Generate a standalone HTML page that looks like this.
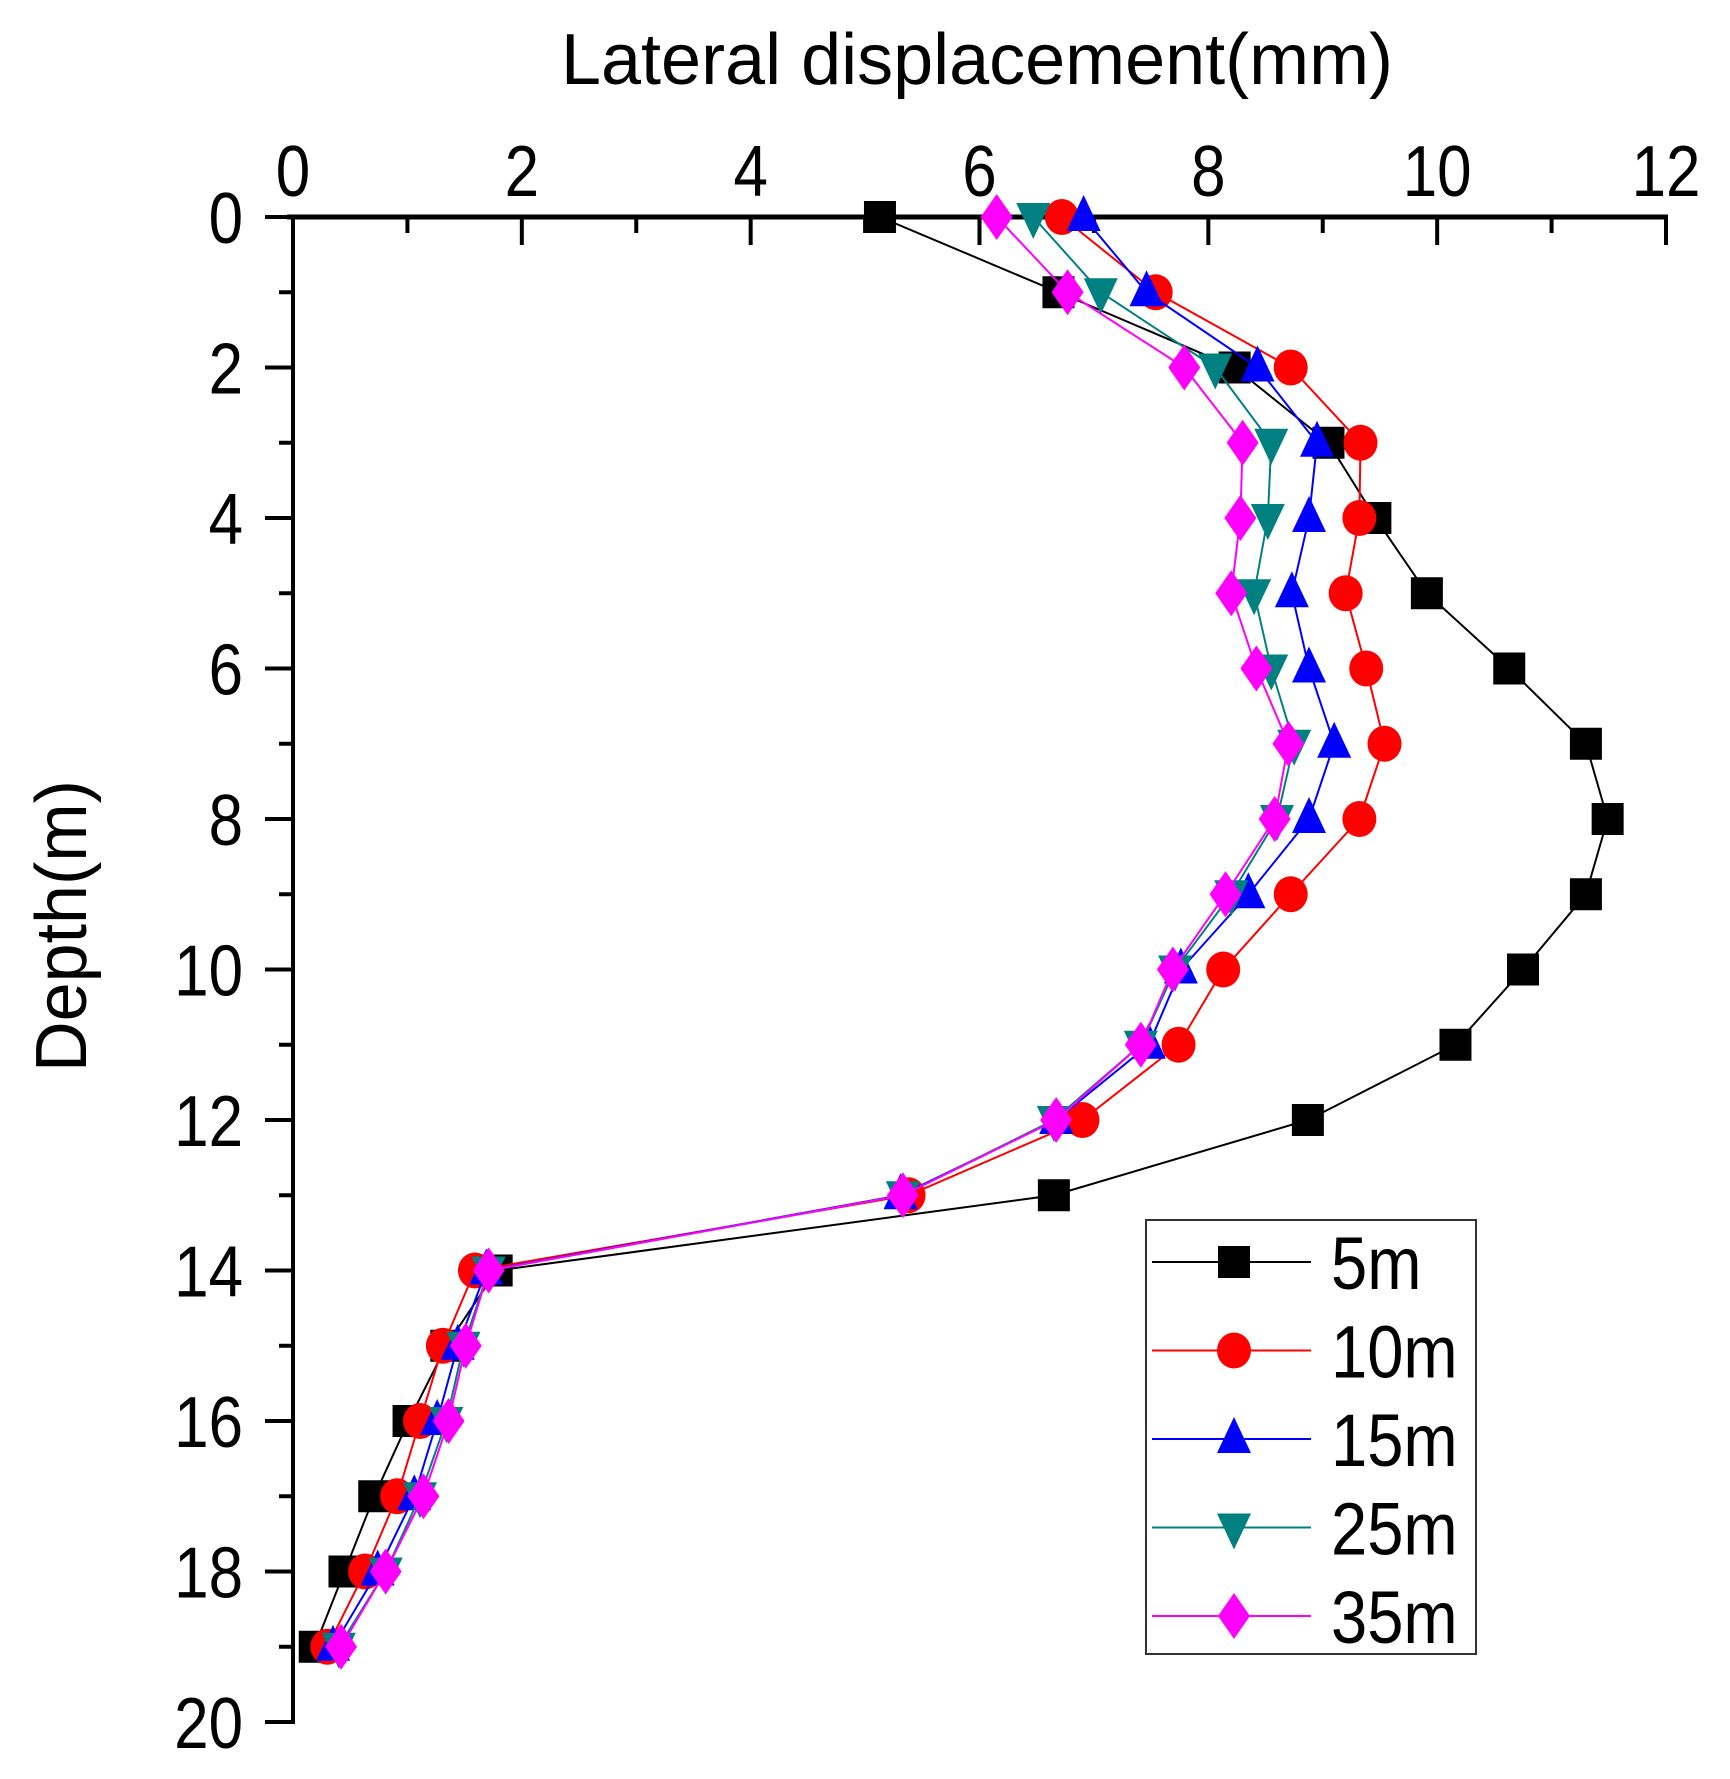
<!DOCTYPE html>
<html><head><meta charset="utf-8"><style>
html,body{margin:0;padding:0;background:#fff;}
svg{display:block;font-family:"Liberation Sans",Arial,sans-serif;}
</style></head><body>
<svg id="chart" width="1730" height="1779" viewBox="0 0 1730 1779" xmlns="http://www.w3.org/2000/svg">
<rect width="1730" height="1779" fill="#fff"/>
<text x="977" y="84" font-size="72" text-anchor="middle" textLength="832" lengthAdjust="spacingAndGlyphs">Lateral displacement(mm)</text>
<text transform="translate(86,926) rotate(-90)" font-size="72" text-anchor="middle" textLength="292" lengthAdjust="spacingAndGlyphs">Depth(m)</text>
<g id="axes"></g><g id="series"></g><g id="legend"></g>
</svg>
<script>
const depths=[0,1,2,3,4,5,6,7,8,9,10,11,12,13,14,15,16,17,18,19];
const s5m=[5.13,6.69,8.23,9.05,9.46,9.91,10.63,11.3,11.49,11.3,10.75,10.16,8.87,6.65,1.78,1.34,1.01,0.71,0.45,0.19];
const s10m=[6.72,7.54,8.72,9.33,9.32,9.2,9.38,9.54,9.32,8.72,8.13,7.74,6.9,5.38,1.59,1.31,1.11,0.91,0.63,0.3];
const s15m=[6.91,7.46,8.43,8.95,8.88,8.73,8.88,9.1,8.88,8.35,7.76,7.48,6.67,5.31,1.69,1.44,1.26,1.06,0.74,0.35];
const s25m=[6.47,7.06,8.06,8.55,8.52,8.4,8.55,8.75,8.6,8.2,7.71,7.41,6.65,5.33,1.71,1.49,1.34,1.11,0.81,0.4];
const s35m=[6.15,6.77,7.79,8.3,8.28,8.2,8.42,8.7,8.58,8.15,7.69,7.41,6.67,5.33,1.71,1.51,1.36,1.14,0.81,0.42];
const xTicks=[0,2,4,6,8,10,12];
const yTicks=[0,2,4,6,8,10,12,14,16,18,20];
const seriesNames=["5m","10m","15m","25m","35m"];

const NS="http://www.w3.org/2000/svg";
const X0=293,X1=1666,Y0=217,Y1=1722;
const xs=v=>X0+(v-0)/12*(X1-X0);
const ys=v=>Y0+v/20*(Y1-Y0);
function mk(tag,attrs,parent){const e=document.createElementNS(NS,tag);for(const k in attrs)e.setAttribute(k,attrs[k]);parent.appendChild(e);return e;}
const axes=document.getElementById('axes');
let l=mk('line',{x1:X0-6,y1:Y0,x2:X1+2,y2:Y0,stroke:'#000','stroke-width':5},axes);


l=mk('line',{x1:X0,y1:Y0,x2:X0,y2:Y1+2,stroke:'#000','stroke-width':4},axes);


for(let v=0;v<=12;v++){
  const major=v%2===0;
  const t=mk('line',{x1:xs(v),y1:Y0,x2:xs(v),y2:Y0+(major?28:16),stroke:'#000','stroke-width':4},axes);
  
  
}
xTicks.forEach(v=>{
  const t=mk('text',{transform:`translate(${xs(v)},196) scale(0.86,1)`,'font-size':72,'text-anchor':'middle'},axes);t.textContent=v;
  
  
});
for(let v=0;v<=20;v++){
  const major=v%2===0;
  const t=mk('line',{x1:X0,y1:ys(v),x2:X0-(major?28:14),y2:ys(v),stroke:'#000','stroke-width':4},axes);
  
  
}
yTicks.forEach(v=>{
  const t=mk('text',{transform:`translate(243,${ys(v)+26}) scale(0.86,1)`,'font-size':72,'text-anchor':'end'},axes);t.textContent=v;
  
  
});
function marker(type,cx,cy,color,parent){
  let e;
  if(type==='sq')e=mk('rect',{x:cx-16,y:cy-16,width:32,height:32,fill:color},parent);
  else if(type==='ci')e=mk('ellipse',{cx:cx,cy:cy,rx:17,ry:18,fill:color},parent);
  else if(type==='up')e=mk('polygon',{points:`${cx},${cy-22} ${cx-17},${cy+14} ${cx+17},${cy+14}`,fill:color},parent);
  else if(type==='dn')e=mk('polygon',{points:`${cx},${cy+22} ${cx-17},${cy-14} ${cx+17},${cy-14}`,fill:color},parent);
  else e=mk('polygon',{points:`${cx},${cy-23} ${cx-16},${cy} ${cx},${cy+23} ${cx+16},${cy}`,fill:color},parent);
  return e;
}
const data=[s5m,s10m,s15m,s25m,s35m];
const colors=['#000','#ff0000','#0000ff','#008080','#ff00ff'];
const types=['sq','ci','up','dn','di'];
const sg=document.getElementById('series');
data.forEach((arr,i)=>{
  const g=mk('g',{},sg);
  
  
  const pl=mk('polyline',{points:arr.map((v,j)=>xs(v)+','+ys(depths[j])).join(' '),fill:'none',stroke:colors[i],'stroke-width':2},g);
  
  
  arr.forEach((v,j)=>{
    const m=marker(types[i],xs(v),ys(depths[j]),colors[i],g);
    
    
  });
});
const lg=document.getElementById('legend');
const box=mk('rect',{x:1146,y:1220,width:330,height:434,fill:'#fff',stroke:'#333','stroke-width':2},lg);


seriesNames.forEach((n,i)=>{
  const y=1262+i*88.5;
  const g=mk('g',{},lg);
  
  
  mk('line',{x1:1152,y1:y,x2:1311,y2:y,stroke:colors[i],'stroke-width':2},g);
  marker(types[i],1234,y,colors[i],g);
  const t=mk('text',{transform:`translate(1331,${y+27}) scale(0.88,1)`,'font-size':74},g);t.textContent=n;
});
</script>
</body></html>
